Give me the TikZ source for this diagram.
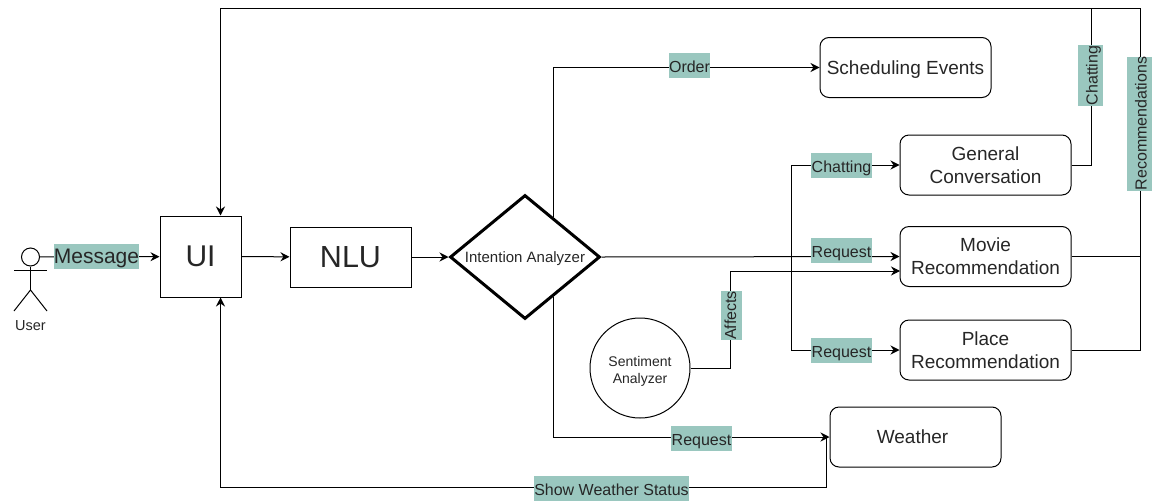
\documentclass[tikz,border=0pt]{standalone}
\usepackage{fontspec}
\setmainfont{Liberation Sans}
\usetikzlibrary{shapes.geometric,arrows.meta}
\definecolor{tagteal}{HTML}{9AC7BF}

\begin{document}
\begin{tikzpicture}[
    x=1pt,y=-1pt,
    every node/.style={text=black!85},
    box/.style={draw,line width=1pt,align=center,font=\fontsize{19}{23}\selectfont,inner sep=0pt},
    plainbox/.style={box,minimum height=60pt},
    softbox/.style={box,rounded corners=9pt,minimum width=171pt,minimum height=60pt},
    tag/.style={fill=tagteal,font=\fontsize{16}{18}\selectfont,inner xsep=0.3pt,inner ysep=0pt,
        minimum height=25pt,text height=15pt,text depth=1pt},
    conn/.style={line width=1pt},
    flow/.style={conn,-{Stealth[length=9pt,width=9pt]}}]

    \useasboundingbox (0,0) rectangle (1153,501);

    % user
    \node (head) [circle,draw,line width=1pt,minimum size=18pt,inner sep=0pt] at (30.5,257) {};
    \coordinate (neck) at (30.5,290);
    \draw[conn] (head) -- (neck);
    \draw[conn] (14,270) -- (47,270);
    \draw[conn] (14,311) -- (neck) -- (47,311);
    \node (user) [font=\fontsize{14.5}{17}\selectfont] at (30.5,326) {User};

    % boxes
    \node (ui) [box,minimum width=81pt,minimum height=81pt,font=\fontsize{30}{34}\selectfont] at (200.5,256.5) {UI};
    \node (nlu) [plainbox,minimum width=121pt,font=\fontsize{30.5}{34}\selectfont] at (350.5,257) {NLU};
    \node (dia) [diamond,draw,line width=3pt,minimum width=150pt,minimum height=124pt,inner sep=0pt,aspect=1.21,
        font=\fontsize{15}{17}\selectfont,text height=11.5pt,text depth=0pt] at (525,257) {Intention Analyzer};
    \node (sched) [softbox,text height=17pt] at (905.5,67.5) {Scheduling Events};
    \node (general) [softbox] at (985.5,165) {General\\Conversation};
    \node (movie) [softbox] at (985.5,256.5) {Movie\\Recommendation\rule[-1pt]{0pt}{1pt}};
    \node (place) [softbox] at (985.5,350) {Place\\Recommendation};
    \node (weather) [softbox,text depth=1pt] at (915.5,437) {Weather\hspace*{6pt}};
    \node (senti) [circle,draw,line width=1pt,minimum size=100pt,inner sep=0pt,align=center,
        font=\fontsize{14}{17}\selectfont] at (640,368) {\rule{0pt}{16pt}Sentiment\\Analyzer};

    % corners and junctions
    \coordinate (brch) at (791,256.5);
    \coordinate (moviein) at (900,271);
    \coordinate (affup) at (730,271);
    \coordinate (topl) at (220.5,8);
    \coordinate (topm) at (1091,8);
    \coordinate (topr) at (1140.5,8);
    \coordinate (rightm) at (1140.5,256.5);
    \coordinate (rightp) at (1140.5,350);
    \coordinate (wbot) at (826,487);
    \coordinate (wtop) at (826,437);
    \coordinate (botl) at (220.5,487);

    % connectors
    \draw[flow] (head) -- (ui);
    \draw[flow] (ui) -- (nlu);
    \draw[flow] (nlu) -- (dia);
    \draw[flow] (dia.54.3) |- (sched);
    \draw[flow] (dia.-54.3) |- (weather);
    \draw[flow] (dia.east) -- (movie.west);
    \draw[flow] (brch) |- (general);
    \draw[flow] (brch) |- (place);
    \draw[flow] (senti) -| (affup) -- (moviein);
    \draw[conn] (general) -| (topm);
    \draw[conn] (movie) -- (rightm);
    \draw[conn] (place) -- (rightp);
    \draw[flow] (rightp) -- (topr) -- (topl) -- (ui.north -| topl);
    \draw[flow] (wtop) -- (wbot) -- (botl) -- (ui.south -| botl);

    % labels
    \node (lmsg) [tag,minimum width=85pt,font=\fontsize{21}{24}\selectfont] at (96.5,256.5) {Message};
    \node (lorder) [tag] at (689.5,65.5) {Order};
    \node (lchat) [tag] at (841.5,165.5) {Chatting};
    \node (lreqm) [tag] at (841.5,250.5) {Request};
    \node (lreqp) [tag] at (841.5,350.5) {Request};
    \node (lreqw) [tag] at (701.5,438.5) {Request};
    \node (lshow) [tag] at (611.5,488.5) {Show Weather Status};
    \node (laff) [tag,rotate=90,minimum height=21pt,text height=12pt,text depth=3pt] at (731.5,315.5) {Affects};
    \node (lchat2) [tag,rotate=90] at (1090.5,75.5) {Chatting};
    \node (lrec) [tag,rotate=90] at (1139.5,123.5) {Recommendations};

\end{tikzpicture}
\end{document}
